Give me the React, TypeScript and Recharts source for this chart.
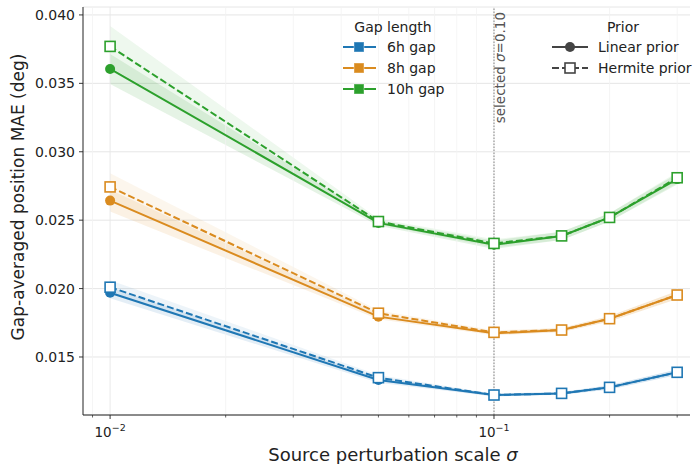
import { ComposedChart, Line, Area, XAxis, YAxis, CartesianGrid, ReferenceLine } from 'recharts'

const sigmas = [0.01, 0.05, 0.1, 0.15, 0.2, 0.3]

const gap6Linear = [0.0197, 0.01332, 0.01222, 0.01234, 0.01278, 0.01388]
const gap6Hermite = [0.0201, 0.01349, 0.01222, 0.01234, 0.01278, 0.01388]
const gap8Linear = [0.02643, 0.01795, 0.01673, 0.01697, 0.0178, 0.01953]
const gap8Hermite = [0.02743, 0.0182, 0.0168, 0.01697, 0.0178, 0.01953]
const gap10Linear = [0.03605, 0.0248, 0.0232, 0.02385, 0.0252, 0.0280]
const gap10Hermite = [0.0377, 0.0249, 0.0233, 0.02385, 0.0252, 0.0281]

// spread across seeds (half band width)
const gap6LinearSd = [0.0004, 0.0002, 0.0001, 0.0001, 0.00015, 0.0002]
const gap6HermiteSd = [0.0005, 0.0002, 0.0001, 0.0001, 0.00015, 0.0002]
const gap8LinearSd = [0.0008, 0.0002, 0.00015, 0.00015, 0.0002, 0.0003]
const gap8HermiteSd = [0.001, 0.0002, 0.00015, 0.00015, 0.0002, 0.0003]
const gap10LinearSd = [0.0011, 0.0002, 0.0003, 0.0003, 0.0003, 0.0004]
const gap10HermiteSd = [0.0015, 0.0002, 0.0003, 0.0003, 0.0003, 0.0004]

const majorTicks = [0.01, 0.1]
const minorTicks = [0.009, 0.02, 0.03, 0.04, 0.05, 0.06, 0.07, 0.08, 0.09, 0.2, 0.3]
const yTicks = [0.015, 0.02, 0.025, 0.03, 0.035, 0.04]

const gapNames = ['6h gap', '8h gap', '10h gap']
const priorNames = ['Linear prior', 'Hermite prior']

const BLUE = '#1f77b4'
const ORANGE = '#da8b1f'
const GREEN = '#2ca02c'

const series = [
  { key: 'g6', color: BLUE, lin: gap6Linear, her: gap6Hermite, linSd: gap6LinearSd, herSd: gap6HermiteSd },
  { key: 'g8', color: ORANGE, lin: gap8Linear, her: gap8Hermite, linSd: gap8LinearSd, herSd: gap8HermiteSd },
  { key: 'g10', color: GREEN, lin: gap10Linear, her: gap10Hermite, linSd: gap10LinearSd, herSd: gap10HermiteSd },
]

const data = sigmas.map((x, i) => {
  const row: Record<string, any> = { x }
  series.forEach((s) => {
    row[s.key + 'Lin'] = s.lin[i]
    row[s.key + 'Her'] = s.her[i]
    row[s.key + 'LinBand'] = [s.lin[i] - s.linSd[i], s.lin[i] + s.linSd[i]]
    row[s.key + 'HerBand'] = [s.her[i] - s.herSd[i], s.her[i] + s.herSd[i]]
  })
  return row
})

const FONT = '"DejaVu Sans", sans-serif'

function XTick(props: any) {
  const { x, y, payload } = props
  const v = payload.value
  const isMajor = majorTicks.some((m) => Math.abs(m - v) < 1e-9)
  if (!isMajor) {
    return <line x1={x} x2={x} y1={y} y2={y + 2.5} stroke="#222" strokeWidth={0.7} />
  }
  const exp = Math.round(Math.log10(v))
  return (
    <g>
      <line x1={x} x2={x} y1={y} y2={y + 4} stroke="#222" strokeWidth={0.9} />
      <text x={x} y={y + 22} textAnchor="middle" fontSize={13.5} fill="#222" fontFamily={FONT}>
        10
        <tspan dy={-6} fontSize={9.5}>{'\u2212' + Math.abs(exp)}</tspan>
      </text>
    </g>
  )
}

function YTick(props: any) {
  const { x, y, payload } = props
  return (
    <g>
      <line x1={x - 4} x2={x} y1={y} y2={y} stroke="#222" strokeWidth={0.9} />
      <text x={x - 8} y={y + 5} textAnchor="end" fontSize={14} fill="#222" fontFamily={FONT}>
        {payload.value.toFixed(3)}
      </text>
    </g>
  )
}

function squareDot(color: string) {
  return (props: any) => {
    const { cx, cy, index } = props
    if (cx == null || cy == null) return <g key={index} />
    return <rect key={index} x={cx - 5} y={cy - 5} width={10} height={10} fill="#fff" stroke={color} strokeWidth={1.6} />
  }
}

function SelectedLabel(props: any) {
  const { viewBox } = props
  const x = viewBox.x + 6
  const y = viewBox.y + 5
  return (
    <text x={x} y={y} transform={`rotate(-90 ${x} ${y})`} textAnchor="end" dominantBaseline="central" fontSize={13.5} fill="#555" fontFamily={FONT}>
      selected <tspan fontStyle="italic">σ</tspan>=0.10
    </text>
  )
}

function XLabel() {
  return (
    <text x={393} y={461} textAnchor="middle" fontSize={18} fill="#222" fontFamily={FONT}>
      Source perturbation scale <tspan fontStyle="italic">σ</tspan>
    </text>
  )
}

function YLabel() {
  return (
    <text x={24} y={197} transform="rotate(-90 24 197)" textAnchor="middle" fontSize={17} fill="#222" fontFamily={FONT}>
      Gap-averaged position MAE (deg)
    </text>
  )
}

function Legends() {
  const rowY = [47, 68, 89]
  return (
    <svg width={693} height={464} style={{ position: 'absolute', left: 0, top: 0, pointerEvents: 'none' }}>
      <g fontFamily={FONT} fontSize={14} fill="#222">
        <text x={393} y={32} textAnchor="middle">Gap length</text>
        {series.map((s, i) => (
          <g key={s.key}>
            <line x1={343} x2={376} y1={rowY[i]} y2={rowY[i]} stroke={s.color} strokeWidth={2} />
            <rect x={354} y={rowY[i] - 5} width={10} height={10} fill={s.color} stroke="#fff" strokeOpacity={0.4} strokeWidth={1} />
            <text x={387} y={rowY[i] + 5}>{gapNames[i]}</text>
          </g>
        ))}
        <text x={623} y={32} textAnchor="middle">Prior</text>
        <line x1={552} x2={588} y1={rowY[0]} y2={rowY[0]} stroke="#444" strokeWidth={2} />
        <circle cx={570} cy={rowY[0]} r={5} fill="#444" />
        <text x={598} y={rowY[0] + 5}>{priorNames[0]}</text>
        <line x1={552} x2={588} y1={rowY[1]} y2={rowY[1]} stroke="#444" strokeWidth={2} strokeDasharray="7 3" />
        <rect x={565} y={rowY[1] - 5} width={10} height={10} fill="#fff" stroke="#444" strokeWidth={1.6} />
        <text x={598} y={rowY[1] + 5}>{priorNames[1]}</text>
      </g>
      <XLabel />
      <YLabel />
    </svg>
  )
}

export default function App() {
  return (
    <div style={{ position: 'absolute', left: 0, top: 0, width: 693, height: 464, background: '#fff' }}>
      <ComposedChart width={693} height={464} data={data} margin={{ top: 7, right: 3, left: 0, bottom: 0 }}>
        <CartesianGrid horizontal vertical={false} stroke="#e3e3e3" strokeWidth={0.9} />
        {minorTicks.map((t) => (
          <ReferenceLine key={'mg' + t} x={t} stroke="#f2f2f2" strokeWidth={0.8} />
        ))}
        {majorTicks.map((t) => (
          <ReferenceLine key={'Mg' + t} x={t} stroke="#e6e6e6" strokeWidth={0.9} />
        ))}
        <XAxis
          dataKey="x"
          type="number"
          scale="log"
          domain={[0.0085, 0.324]}
          ticks={[...majorTicks, ...minorTicks]}
          allowDataOverflow
          tick={<XTick />}
          tickLine={false}
          tickSize={0}
          tickMargin={0}
          interval={0}
          height={49}
          axisLine={{ stroke: '#222', strokeWidth: 1 }}
        />
        <YAxis
          type="number"
          domain={[0.01076, 0.04058]}
          ticks={yTicks}
          allowDataOverflow
          width={83}
          tick={<YTick />}
          tickLine={false}
          tickSize={0}
          tickMargin={0}
          axisLine={{ stroke: '#222', strokeWidth: 1 }}
        />
        {series.map((s) => (
          <Area key={s.key + 'hb'} dataKey={s.key + 'HerBand'} stroke="none" fill={s.color} fillOpacity={0.08} isAnimationActive={false} activeDot={false} />
        ))}
        {series.map((s) => (
          <Area key={s.key + 'lb'} dataKey={s.key + 'LinBand'} stroke="none" fill={s.color} fillOpacity={0.12} isAnimationActive={false} activeDot={false} />
        ))}
        <ReferenceLine x={0.1} stroke="#999" strokeWidth={1.2} strokeDasharray="1.5 1.5" label={<SelectedLabel />} />
        {series.map((s) => (
          <Line key={s.key + 'l'} dataKey={s.key + 'Lin'} stroke={s.color} strokeWidth={2} dot={{ r: 5, fill: s.color, stroke: s.color, strokeWidth: 0 }} isAnimationActive={false} activeDot={false} />
        ))}
        {series.map((s) => (
          <Line key={s.key + 'h'} dataKey={s.key + 'Her'} stroke={s.color} strokeWidth={2} strokeDasharray="7 3" dot={squareDot(s.color)} isAnimationActive={false} activeDot={false} />
        ))}
      </ComposedChart>
      <Legends />
    </div>
  )
}
